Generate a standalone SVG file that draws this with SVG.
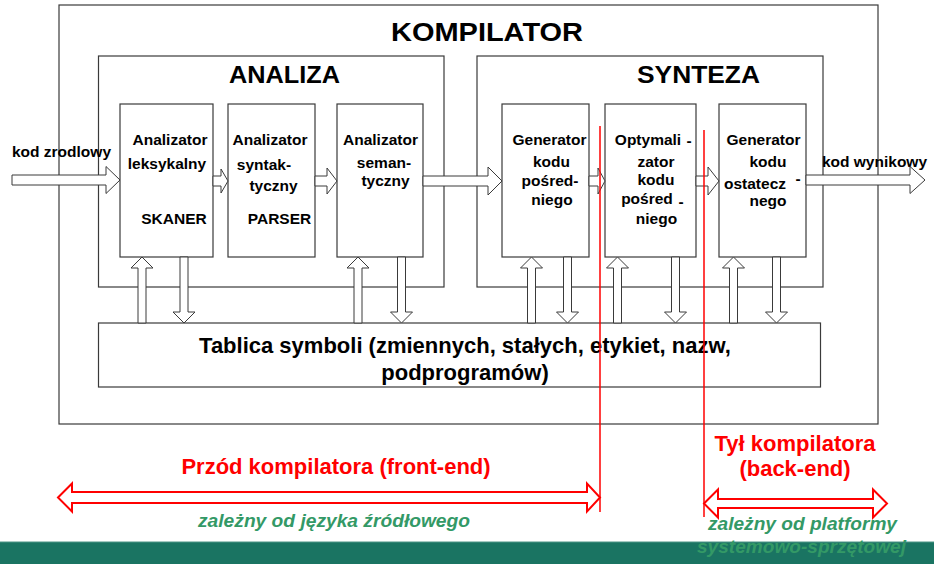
<svg xmlns="http://www.w3.org/2000/svg" width="934" height="564" viewBox="0 0 934 564">
<style>
.box{fill:#fff;stroke:#3a3a3a;stroke-width:1.2}
.cont{fill:none;stroke:#3a3a3a;stroke-width:1.2}
.t{font-family:"Liberation Sans",Arial,sans-serif;font-weight:bold;fill:#000;text-anchor:middle}
.bt{font-size:15.5px}
.arr{fill:#fff;stroke:#3a3a3a;stroke-width:1}
.red{font-family:"Liberation Sans",Arial,sans-serif;font-weight:bold;fill:#ff0000;font-size:22px;text-anchor:middle}
.grn{font-family:"Liberation Sans",Arial,sans-serif;font-weight:bold;font-style:italic;fill:#339966;font-size:18px;text-anchor:middle}
.rl{stroke:#ff0000;stroke-width:1.5;fill:none}
.rarr{fill:#fff;stroke:#ff0000;stroke-width:2}
</style>
<rect x="0" y="0" width="934" height="564" fill="#fff"/>
<g id="kompilator">
<rect class="cont" x="59" y="5" width="819" height="419"/>
<text class="t" x="487" y="41" font-size="26" textLength="192" lengthAdjust="spacingAndGlyphs">KOMPILATOR</text>
</g>
<g id="analiza">
<rect class="cont" x="98.5" y="56" width="345.5" height="231"/>
<text class="t" x="284.5" y="83" font-size="24" textLength="111" lengthAdjust="spacingAndGlyphs">ANALIZA</text>
</g>
<g id="synteza">
<rect class="cont" x="477" y="56" width="346" height="231"/>
<text class="t" x="698.5" y="83" font-size="24" textLength="123" lengthAdjust="spacingAndGlyphs">SYNTEZA</text>
</g>
<g id="skaner">
<rect class="box" x="120" y="104" width="93" height="153"/>
<text class="t bt" x="170" y="145">Analizator</text>
<text class="t bt" x="167" y="169">leksykalny</text>
<text class="t bt" x="174" y="224">SKANER</text>
</g>
<g id="parser">
<rect class="box" x="228" y="104" width="87" height="153"/>
<text class="t bt" x="270" y="145">Analizator</text>
<text class="t bt" x="264" y="170">syntak-</text>
<text class="t bt" x="273.5" y="191">tyczny</text>
<text class="t bt" x="279.5" y="224">PARSER</text>
</g>
<g id="semantyczny">
<rect class="box" x="337" y="104" width="86" height="153"/>
<text class="t bt" x="380.5" y="145">Analizator</text>
<text class="t bt" x="384" y="168">seman-</text>
<text class="t bt" x="385.5" y="186">tyczny</text>
</g>
<g id="generator-posredni">
<rect class="box" x="502" y="104" width="87" height="153"/>
<text class="t bt" x="549.5" y="145">Generator</text>
<text class="t bt" x="551.5" y="167">kodu</text>
<text class="t bt" x="550" y="186">pośred-</text>
<text class="t bt" x="552" y="205">niego</text>
</g>
<g id="optymalizator">
<rect class="box" x="605" y="104" width="91" height="153"/>
<text class="t bt" x="648" y="145">Optymali</text>
<text class="t bt" x="689" y="146">-</text>
<text class="t bt" x="656" y="167">zator</text>
<text class="t bt" x="656" y="185">kodu</text>
<text class="t bt" x="647" y="204">pośred</text>
<text class="t bt" x="681" y="207">-</text>
<text class="t bt" x="656.5" y="224">niego</text>
</g>
<g id="generator-ostateczny">
<rect class="box" x="719" y="104" width="87" height="153"/>
<text class="t bt" x="763.5" y="145">Generator</text>
<text class="t bt" x="768" y="167">kodu</text>
<text class="t bt" x="755" y="189">ostatecz</text>
<text class="t bt" x="798" y="184">-</text>
<text class="t bt" x="768" y="206">nego</text>
</g>
<g id="tablica">
<rect class="box" x="98.5" y="323" width="722" height="64"/>
<text class="t" x="465" y="353" font-size="22">Tablica symboli (zmiennych, stałych, etykiet, nazw,</text>
<text class="t" x="465" y="380" font-size="22">podprogramów)</text>
</g>
<g id="labels">
<text class="t" x="61.5" y="157" font-size="15.5">kod zrodlowy</text>
<text class="t" x="874.5" y="167" font-size="15.5">kod wynikowy</text>
</g>
<g id="connectors">
<path class="arr" d="M12,175 L106,175 L106,166.5 L120,180 L106,193.5 L106,185 L12,185 Z"/>
<path class="arr" d="M213,176 L221,176 L221,169 L228,181 L221,193 L221,186 L213,186 Z"/>
<path class="arr" d="M315,176 L327,176 L327,168 L337,181 L327,194 L327,186 L315,186 Z"/>
<path class="arr" d="M423,176 L488,176 L488,167 L502,181 L488,195 L488,186 L423,186 Z"/>
<path class="arr" d="M589,176 L598,176 L598,168 L605,181 L598,194 L598,186 L589,186 Z"/>
<path class="arr" d="M696,176 L708,176 L708,167 L719,181 L708,195 L708,186 L696,186 Z"/>
<path class="arr" d="M806,175 L910,175 L910,166.5 L925,180 L910,193.5 L910,185 L806,185 Z"/>
<g id="up-arrows">
<path class="arr" d="M138,323 L138,268 L131,268 L142,257 L153,268 L146,268 L146,323 Z"/>
<path class="arr" d="M354,323 L354,268 L347,268 L358,257 L369,268 L362,268 L362,323 Z"/>
<path class="arr" d="M527.5,323 L527.5,268 L520.5,268 L531.5,257 L542.5,268 L535.5,268 L535.5,323 Z"/>
<path class="arr" d="M613.5,323 L613.5,268 L606.5,268 L617.5,257 L628.5,268 L621.5,268 L621.5,323 Z"/>
<path class="arr" d="M729.5,323 L729.5,268 L722.5,268 L733.5,257 L744.5,268 L737.5,268 L737.5,323 Z"/>
</g>
<g id="down-arrows">
<path class="arr" d="M180,257 L180,312 L173,312 L184,323 L195,312 L188,312 L188,257 Z"/>
<path class="arr" d="M397.5,257 L397.5,312 L390.5,312 L401.5,323 L412.5,312 L405.5,312 L405.5,257 Z"/>
<path class="arr" d="M563.5,257 L563.5,312 L556.5,312 L567.5,323 L578.5,312 L571.5,312 L571.5,257 Z"/>
<path class="arr" d="M671.5,257 L671.5,312 L664.5,312 L675.5,323 L686.5,312 L679.5,312 L679.5,257 Z"/>
<path class="arr" d="M772.5,257 L772.5,312 L765.5,312 L776.5,323 L787.5,312 L780.5,312 L780.5,257 Z"/>
</g>
</g>
<g id="front-end">
<line class="rl" x1="600" y1="126" x2="600" y2="512"/>
<path class="rarr" d="M58,497.5 L72,483.5 L72,492 L587,492 L587,483.5 L600,497.5 L587,511.5 L587,503 L72,503 L72,511.5 Z"/>
<text class="red" x="336" y="474">Przód kompilatora (front-end)</text>
<text class="grn" x="334" y="527" textLength="272" lengthAdjust="spacingAndGlyphs">zależny od języka źródłowego</text>
</g>
<rect id="band" x="0" y="542" width="934" height="22" fill="#1a7462"/>
<line x1="0" y1="542" x2="934" y2="542" stroke="#4d9485" stroke-width="1"/>
<g id="back-end">
<line class="rl" x1="704" y1="130" x2="704" y2="517"/>
<path class="rarr" d="M704,503.5 L718,489.5 L718,499 L873,499 L873,489.5 L887,503.5 L873,517.5 L873,508 L718,508 L718,517.5 Z"/>
<text class="red" x="795" y="451">Tył kompilatora</text>
<text class="red" x="795" y="476">(back-end)</text>
<text class="grn" x="802.5" y="530" textLength="189" lengthAdjust="spacingAndGlyphs">zależny od platformy</text>
<text class="grn" x="801.5" y="553" textLength="209" lengthAdjust="spacingAndGlyphs" fill="#2f8f68">systemowo-sprzętowej</text>
</g>
</svg>
